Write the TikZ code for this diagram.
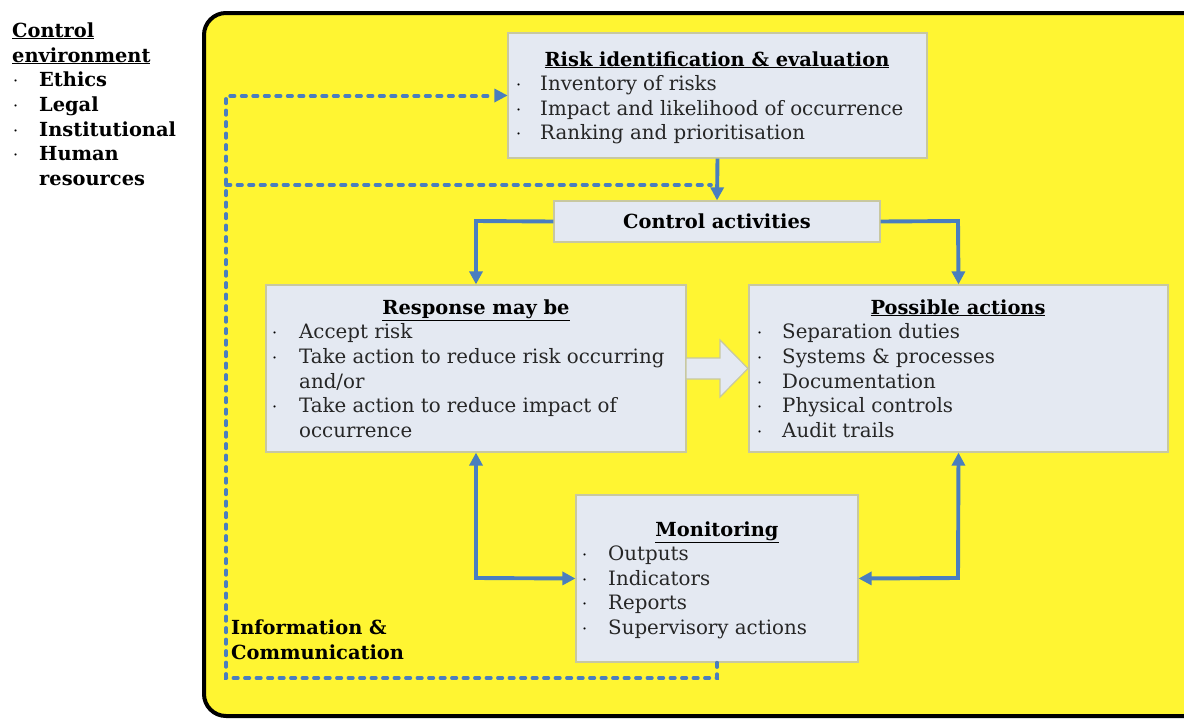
\documentclass[tikz,border=0pt]{standalone}
\usepackage{fontspec}
\setmainfont{DejaVu Serif}
\usetikzlibrary{arrows.meta}
\definecolor{bgyellow}{RGB}{255,245,50}
\definecolor{boxfill}{RGB}{228,233,242}
\definecolor{boxline}{RGB}{200,200,160}
\definecolor{flow}{RGB}{74,126,190}
\tikzset{
  panel/.style={draw=boxline, line width=1.2pt, fill=boxfill},
  txt/.style={anchor=base west, inner sep=0pt, font=\fontsize{19.8}{24}\selectfont, text=black!85},
  ttl/.style={anchor=base, inner sep=0pt, font=\fontsize{19.4}{24}\selectfont\bfseries},
  bul/.style={anchor=base west, inner sep=0pt, font=\fontsize{16}{20}\selectfont},
  env/.style={anchor=base west, inner sep=0pt, font=\fontsize{19.4}{24}\selectfont\bfseries},
  solidflow/.style={draw=flow, line width=3.9pt, -{Triangle[length=13pt,width=13pt]}},
  bothflow/.style={draw=flow, line width=3.9pt, {Triangle[length=13pt,width=13pt]}-{Triangle[length=13pt,width=13pt]}},
  dashflow/.style={draw=flow, line width=3.6pt, dash pattern=on 4.5pt off 7pt, line cap=round},
}
\begin{document}
\begin{tikzpicture}[x=1pt,y=-1pt]
\useasboundingbox (0,0) rectangle (1184,718);
\begin{scope}
\clip (0,0) rectangle (1184,718);
\draw[line width=4pt, fill=bgyellow, rounded corners=22pt] (204,13) rectangle (1230,716);
\end{scope}

% boxes
\node[panel, minimum width=419pt, minimum height=125pt, inner sep=0pt] (risk) at (717.5,95.5) {};
\node[panel, minimum width=326pt, minimum height=41pt, inner sep=0pt] (ctrl) at (717,221.5) {};
\node[panel, minimum width=420pt, minimum height=167pt, inner sep=0pt] (resp) at (476,368.5) {};
\node[panel, minimum width=419pt, minimum height=167pt, inner sep=0pt] (poss) at (958.5,368.5) {};
\node[panel, minimum width=282pt, minimum height=167pt, inner sep=0pt] (mon) at (717,578.5) {};

% hollow arrow
\draw[draw=boxline, line width=1.2pt, fill=boxfill] (686,358) -- (720,358) -- (720,340) -- (748,368.5) -- (720,397) -- (720,379) -- (686,379) -- cycle;

% coordinates
\coordinate (dA) at (717,678);
\coordinate (dB) at (226,678);
\coordinate (dC) at (226,96);
\coordinate (dD) at (226,185);
\coordinate (dE) at (711,185);
\coordinate (dF) at (494,96);
\coordinate (cl) at (476,221);
\coordinate (cr) at (958,221);
\coordinate (ml) at (476,578);
\coordinate (mr) at (958,578);

% solid arrows
\draw[solidflow] (risk.south) -- (ctrl.north);
\draw[solidflow] (ctrl.west) -- (cl) -- (resp.north);
\draw[solidflow] (ctrl.east) -- (cr) -- (poss.north);
\draw[bothflow] (resp.south) -- (ml) -- (mon.west);
\draw[bothflow] (poss.south) -- (mr) -- (mon.east);

% dashed
\draw[dashflow] (mon.south) -- (dA) -- (dB) -- (dC) -- (dF);
\fill[flow] (risk.west) -- ++(-13,-7) -- ++(0,14) -- cycle;
\draw[dashflow] (dD) -- (dE);

% risk text
\node[ttl] (riskt) at (717,66) {\underline{Risk identification \& evaluation}};
\node[bul] (rb1) at (516,90) {·};
\node[txt] (r1) at (540,90) {Inventory of risks};
\node[bul] (rb2) at (516,115) {·};
\node[txt] (r2) at (540,115) {Impact and likelihood of occurrence};
\node[bul] (rb3) at (516,139) {·};
\node[txt] (r3) at (540,139) {Ranking and prioritisation};

\node[ttl] (ctrlt) at (717,228) {Control activities};

% response
\node[ttl] (respt) at (476,314) {\underline{Response may be}};
\node[bul] (sb1) at (272,338) {·};
\node[txt] (s1) at (299,338) {Accept risk};
\node[bul] (sb2) at (272,363) {·};
\node[txt] (s2) at (299,363) {Take action to reduce risk occurring};
\node[txt] (s3) at (299,388) {and/or};
\node[bul] (sb3) at (272,412) {·};
\node[txt] (s4) at (299,412) {Take action to reduce impact of};
\node[txt] (s5) at (299,437) {occurrence};

% possible
\node[ttl] (posst) at (958,314) {\underline{Possible actions}};
\node[bul] (pb1) at (757,338) {·};
\node[txt] (p1) at (782,338) {Separation duties};
\node[bul] (pb2) at (757,363) {·};
\node[txt] (p2) at (782,363) {Systems \& processes};
\node[bul] (pb3) at (757,388) {·};
\node[txt] (p3) at (782,388) {Documentation};
\node[bul] (pb4) at (757,412) {·};
\node[txt] (p4) at (782,412) {Physical controls};
\node[bul] (pb5) at (757,437) {·};
\node[txt] (p5) at (782,437) {Audit trails};

% monitoring
\node[ttl] (mont) at (717,536) {\underline{Monitoring}};
\node[bul] (mb1) at (582,560) {·};
\node[txt] (m1) at (608,560) {Outputs};
\node[bul] (mb2) at (582,585) {·};
\node[txt] (m2) at (608,585) {Indicators};
\node[bul] (mb3) at (582,609) {·};
\node[txt] (m3) at (608,609) {Reports};
\node[bul] (mb4) at (582,634) {·};
\node[txt] (m4) at (608,634) {Supervisory actions};

% control environment
\node[env] (ce1) at (12,37) {\underline{Control}};
\node[env] (ce2) at (12,62) {\underline{environment}};
\node[bul] (eb1) at (13,86) {·};
\node[env] (e1) at (39,86) {Ethics};
\node[bul] (eb2) at (13,111) {·};
\node[env] (e2) at (39,111) {Legal};
\node[bul] (eb3) at (13,136) {·};
\node[env] (e3) at (39,136) {Institutional};
\node[bul] (eb4) at (13,160) {·};
\node[env] (e4) at (39,160) {Human};
\node[env] (e5) at (39,185) {resources};

% info & comm
\node[env] (ic1) at (231,634) {Information \&};
\node[env] (ic2) at (231,659) {Communication};
\end{tikzpicture}
\end{document}
